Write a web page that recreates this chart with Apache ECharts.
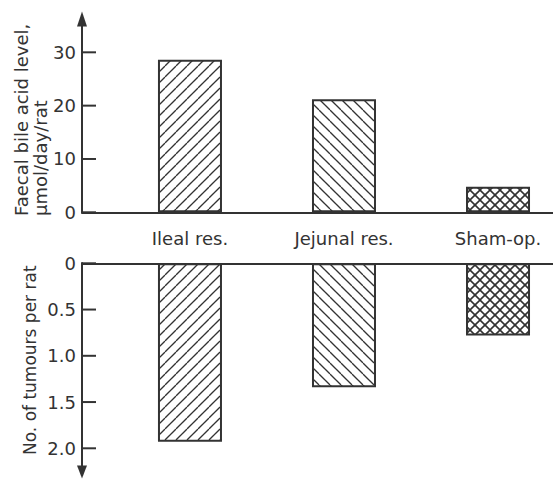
<!DOCTYPE html>
<html>
<head>
<meta charset="utf-8">
<script src="https://cdn.jsdelivr.net/npm/echarts@6/dist/echarts.min.js"></script>
<style>
  html, body { margin: 0; padding: 0; background: #fff; }
  #chart { width: 553px; height: 481px; }
</style>
</head>
<body>
<div id="chart"></div>
<script>
// Faecal bile acid output (upper panel) and tumour yield (lower panel) per group
const categories = ['Ileal res.', 'Jejunal res.', 'Sham-op.'];
const bileAcid = [28.6, 21.2, 4.8];      // µmol/day/rat
const tumours = [1.93, 1.34, 0.78];      // tumours per rat
const bileTicks = [0, 10, 20, 30];
const tumourTicks = [0, 0.5, 1.0, 1.5, 2.0];

const INK = '#333';
const FONT = 'DejaVu Sans';
const TICK_LEN = 14;

// Hatch tiles: '/' forward diagonal, '\\' back diagonal, both = cross-hatch
function hatch(dirs, size, width) {
  const c = document.createElement('canvas');
  c.width = c.height = size;
  const g = c.getContext('2d');
  g.strokeStyle = INK;
  g.lineWidth = width;
  dirs.forEach(function (d) {
    [-size, 0, size].forEach(function (k) {
      g.beginPath();
      if (d === '/') { g.moveTo(k, size); g.lineTo(k + size, 0); }
      else { g.moveTo(k, 0); g.lineTo(k + size, size); }
      g.stroke();
    });
  });
  return { image: c.toDataURL(), repeat: 'repeat' };
}
const fills = [hatch(['/'], 11, 1.3), hatch(['\\'], 11, 1.3), hatch(['/', '\\'], 10, 1.6)];

function points(values) {
  return values.map(function (v, i) {
    return { value: [i, v], itemStyle: { color: fills[i] } };
  });
}

function lineStyle() { return { color: INK, width: 2 }; }
const xRange = { min: -0.701, max: 2.357 };
const last = function (a) { return a[a.length - 1]; };

// Panel geometry (px): upper zero line, lower zero line
const upperZero = 212.3, lowerZero = 263.3;
const upperPxPerUnit = 5.333, lowerPxPerUnit = 92.5;

// Inward tick marks: a short stroke to the right of the y axis at each tick value
function tickMarks(axisIndex, ticks) {
  return {
    type: 'custom', xAxisIndex: axisIndex, yAxisIndex: axisIndex,
    silent: true, clip: false, z: 20,
    renderItem: function (params, api) {
      const p = api.coord([api.value(0), api.value(1)]);
      return {
        type: 'line',
        shape: { x1: p[0], y1: p[1], x2: p[0] + TICK_LEN, y2: p[1] },
        style: { stroke: INK, lineWidth: 2 }
      };
    },
    data: ticks.map(function (t) { return [xRange.min, t]; })
  };
}

const hiddenX = function (grid) {
  return { gridIndex: grid, type: 'value', min: 0, max: 1, show: false };
};

const chart = echarts.init(document.getElementById('chart'), null, { renderer: 'svg' });
chart.setOption({
  animation: false,
  backgroundColor: '#fff',
  tooltip: { show: false },
  textStyle: { fontFamily: FONT, color: INK },
  grid: [
    // 0: upper data panel, spans the labelled tick range
    { left: 82, right: 0, top: upperZero - last(bileTicks) * upperPxPerUnit,
      bottom: 481 - upperZero, outerBoundsMode: 'none' },
    // 1: lower data panel (values grow downward)
    { left: 82, right: 0, top: lowerZero,
      bottom: 481 - (lowerZero + last(tumourTicks) * lowerPxPerUnit), outerBoundsMode: 'none' },
    // 2, 3: full-length arrowed axis lines
    { left: 82, right: 0, top: 19, bottom: 481 - upperZero, outerBoundsMode: 'none' },
    { left: 82, right: 0, top: lowerZero, bottom: 9, outerBoundsMode: 'none' }
  ],
  xAxis: [
    {
      gridIndex: 0, type: 'value', min: xRange.min, max: xRange.max,
      splitLine: { show: false },
      axisLine: { show: true, lineStyle: lineStyle() },
      axisTick: { show: false },
      axisLabel: {
        customValues: [0, 1, 2],
        formatter: function (v) { return categories[Math.round(v)]; },
        margin: 17, fontSize: 18, fontFamily: FONT, color: INK
      }
    },
    {
      gridIndex: 1, type: 'value', min: xRange.min, max: xRange.max,
      position: 'top',
      splitLine: { show: false },
      axisLine: { show: true, lineStyle: lineStyle() },
      axisTick: { show: false },
      axisLabel: { show: false }
    },
    hiddenX(2),
    hiddenX(3)
  ],
  yAxis: [
    {
      gridIndex: 0, type: 'value', min: bileTicks[0], max: last(bileTicks), interval: 10,
      position: 'left',
      splitLine: { show: false },
      axisLine: { show: true, onZero: false, lineStyle: lineStyle() },
      axisTick: { show: false },
      axisLabel: { margin: 6, fontSize: 18, fontFamily: FONT, color: INK }
    },
    {
      gridIndex: 1, type: 'value', min: tumourTicks[0], max: last(tumourTicks), interval: 0.5,
      inverse: true, position: 'left',
      splitLine: { show: false },
      axisLine: { show: true, onZero: false, lineStyle: lineStyle() },
      axisTick: { show: false },
      axisLabel: {
        margin: 6, fontSize: 18, fontFamily: FONT, color: INK,
        formatter: function (v) { return v === 0 ? '0' : v.toFixed(1); }
      }
    },
    {
      gridIndex: 2, type: 'value', min: 0, max: 1,
      splitLine: { show: false }, axisTick: { show: false }, axisLabel: { show: false },
      axisLine: { show: true, onZero: false, lineStyle: lineStyle(),
                  symbol: ['none', 'triangle'], symbolSize: [10, 15] }
    },
    {
      gridIndex: 3, type: 'value', min: 0, max: 1,
      splitLine: { show: false }, axisTick: { show: false }, axisLabel: { show: false },
      axisLine: { show: true, onZero: false, lineStyle: lineStyle(),
                  symbol: ['triangle', 'none'], symbolSize: [10, 13] }
    }
  ],
  series: [
    {
      name: 'Faecal bile acid', type: 'bar', xAxisIndex: 0, yAxisIndex: 0,
      barWidth: 64,
      itemStyle: { borderColor: INK, borderWidth: 2 },
      data: points(bileAcid)
    },
    {
      name: 'Tumours', type: 'bar', xAxisIndex: 1, yAxisIndex: 1,
      barWidth: 64,
      itemStyle: { borderColor: INK, borderWidth: 2 },
      data: points(tumours)
    },
    tickMarks(0, bileTicks),
    tickMarks(1, tumourTicks)
  ],
  graphic: [
    { type: 'text', x: 21, y: 216, rotation: Math.PI / 2,
      style: { text: 'Faecal bile acid level,', font: '18px "DejaVu Sans"', fill: INK,
               textAlign: 'left', textVerticalAlign: 'middle' } },
    { type: 'text', x: 40, y: 216, rotation: Math.PI / 2,
      style: { text: 'μmol/day/rat', font: '18px "DejaVu Sans"', fill: INK,
               textAlign: 'left', textVerticalAlign: 'middle' } },
    { type: 'text', x: 30, y: 455, rotation: Math.PI / 2,
      style: { text: 'No. of tumours per rat', font: '17px "DejaVu Sans"', fill: INK,
               textAlign: 'left', textVerticalAlign: 'middle' } }
  ]
});
</script>
</body>
</html>
